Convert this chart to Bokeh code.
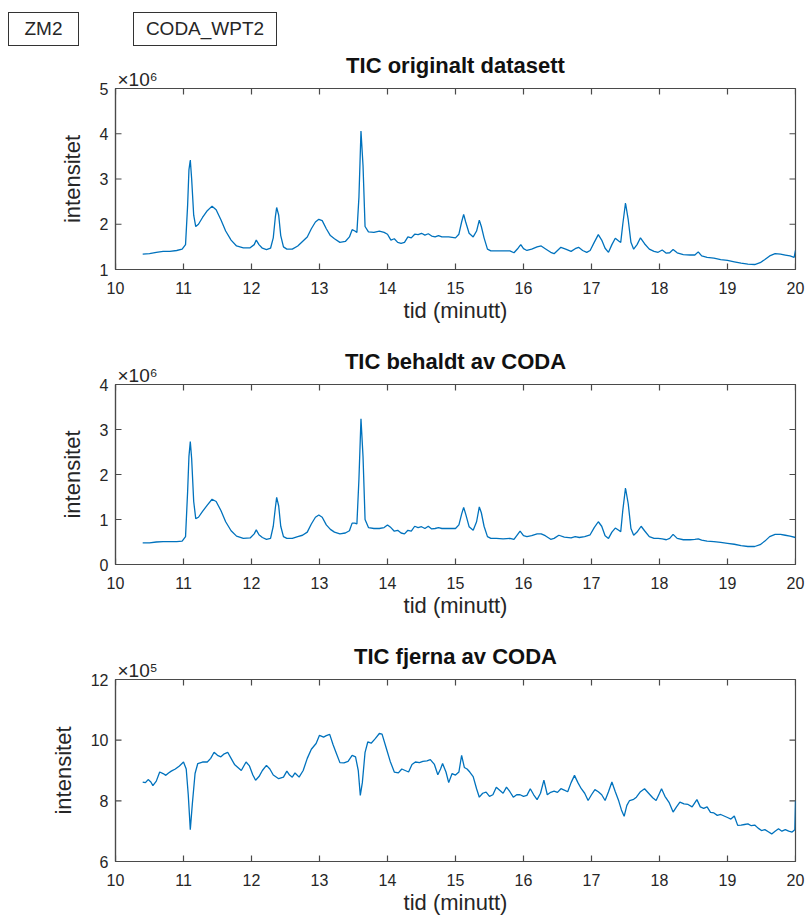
import math
from bokeh.plotting import figure
from bokeh.models import Range1d, FixedTicker, Div, Title
from bokeh.layouts import column
from bokeh.embed import file_html
from bokeh.resources import INLINE

# ---------------- data ----------------
x_ticks = [10, 11, 12, 13, 14, 15, 16, 17, 18, 19, 20]

# TIC originalt datasett  (intensitet, x 10^6)
t_orig = [10.40, 10.50, 10.60, 10.70, 10.80, 10.90, 10.98, 11.03, 11.06, 11.08, 11.10, 11.12, 11.15, 11.18,
          11.22, 11.28, 11.35, 11.42, 11.48, 11.55, 11.62, 11.70, 11.78, 11.88, 11.98, 12.04, 12.07, 12.11,
          12.16, 12.22, 12.28, 12.32, 12.35, 12.37, 12.40, 12.43, 12.47, 12.52, 12.60, 12.68, 12.75, 12.82,
          12.88, 12.94, 12.99, 13.04, 13.10, 13.16, 13.22, 13.30, 13.38, 13.44, 13.48, 13.52, 13.55, 13.58,
          13.61, 13.64, 13.67, 13.72, 13.80, 13.88, 13.95, 14.00, 14.05, 14.10, 14.15, 14.20, 14.25, 14.30,
          14.35, 14.40, 14.45, 14.50, 14.55, 14.60, 14.65, 14.70, 14.75, 14.80, 14.90, 15.00, 15.05, 15.09,
          15.12, 15.15, 15.20, 15.26, 15.31, 15.35, 15.38, 15.42, 15.47, 15.52, 15.60, 15.70, 15.80, 15.86,
          15.92, 15.96, 16.00, 16.05, 16.12, 16.20, 16.26, 16.32, 16.40, 16.45, 16.50, 16.55, 16.62, 16.70,
          16.76, 16.81, 16.87, 16.93, 16.98, 17.04, 17.10, 17.15, 17.20, 17.25, 17.30, 17.35, 17.40, 17.43,
          17.46, 17.50, 17.54, 17.58, 17.62, 17.67, 17.72, 17.78, 17.85, 17.92, 17.98, 18.04, 18.10, 18.15,
          18.20, 18.26, 18.35, 18.45, 18.52, 18.57, 18.62, 18.70, 18.80, 18.90, 19.00, 19.10, 19.20, 19.30,
          19.40, 19.48, 19.55, 19.62, 19.70, 19.78, 19.85, 19.92, 19.98, 20.00]
tic_orig = [1.34, 1.35, 1.38, 1.40, 1.40, 1.42, 1.45, 1.55, 2.40, 3.20, 3.42, 3.00, 2.20, 1.95,
            2.00, 2.15, 2.30, 2.40, 2.32, 2.10, 1.85, 1.65, 1.52, 1.48, 1.48, 1.55, 1.65, 1.55,
            1.47, 1.44, 1.47, 1.70, 2.15, 2.37, 2.20, 1.75, 1.50, 1.45, 1.45, 1.52, 1.62, 1.72,
            1.90, 2.05, 2.11, 2.08, 1.90, 1.75, 1.68, 1.60, 1.62, 1.72, 1.88, 1.85, 1.82, 2.60,
            4.06, 3.30, 1.95, 1.83, 1.82, 1.85, 1.82, 1.78, 1.65, 1.68, 1.60, 1.58, 1.60, 1.72,
            1.70, 1.78, 1.77, 1.80, 1.76, 1.79, 1.74, 1.72, 1.75, 1.72, 1.72, 1.70, 1.78, 2.05,
            2.22, 2.05, 1.80, 1.72, 1.85, 2.09, 1.95, 1.70, 1.45, 1.41, 1.41, 1.41, 1.41, 1.37,
            1.47, 1.55, 1.46, 1.42, 1.45, 1.50, 1.52, 1.46, 1.38, 1.35, 1.42, 1.49, 1.45, 1.40,
            1.46, 1.49, 1.42, 1.38, 1.42, 1.60, 1.77, 1.65, 1.47, 1.38, 1.55, 1.69, 1.63, 1.60,
            2.00, 2.47, 2.10, 1.60, 1.45, 1.55, 1.70, 1.57, 1.45, 1.40, 1.38, 1.43, 1.36, 1.37,
            1.44, 1.37, 1.33, 1.32, 1.32, 1.39, 1.30, 1.27, 1.25, 1.22, 1.20, 1.17, 1.14, 1.12,
            1.11, 1.15, 1.22, 1.30, 1.35, 1.34, 1.32, 1.30, 1.27, 1.42]

# TIC behaldt av CODA  (intensitet, x 10^6)
t_kept = [10.40, 10.50, 10.60, 10.70, 10.80, 10.90, 10.98, 11.03, 11.06, 11.08, 11.10, 11.12, 11.15, 11.18,
          11.22, 11.28, 11.35, 11.42, 11.48, 11.55, 11.62, 11.70, 11.78, 11.88, 11.98, 12.04, 12.07, 12.11,
          12.16, 12.22, 12.28, 12.32, 12.35, 12.37, 12.40, 12.43, 12.47, 12.52, 12.60, 12.68, 12.75, 12.82,
          12.88, 12.94, 12.99, 13.04, 13.10, 13.16, 13.22, 13.30, 13.38, 13.44, 13.48, 13.52, 13.55, 13.58,
          13.61, 13.64, 13.67, 13.72, 13.80, 13.88, 13.95, 14.00, 14.05, 14.10, 14.15, 14.20, 14.25, 14.30,
          14.35, 14.40, 14.45, 14.50, 14.55, 14.60, 14.65, 14.70, 14.75, 14.80, 14.90, 15.00, 15.05, 15.09,
          15.12, 15.15, 15.20, 15.26, 15.31, 15.35, 15.38, 15.42, 15.47, 15.52, 15.60, 15.70, 15.80, 15.86,
          15.92, 15.95, 16.00, 16.05, 16.12, 16.20, 16.26, 16.32, 16.40, 16.45, 16.52, 16.60, 16.70, 16.76,
          16.82, 16.90, 16.98, 17.04, 17.10, 17.15, 17.20, 17.25, 17.30, 17.35, 17.40, 17.43, 17.46, 17.50,
          17.54, 17.58, 17.62, 17.67, 17.73, 17.78, 17.85, 17.92, 17.98, 18.04, 18.10, 18.15, 18.20, 18.26,
          18.35, 18.45, 18.52, 18.57, 18.62, 18.70, 18.80, 18.90, 19.00, 19.10, 19.20, 19.30, 19.40, 19.48,
          19.55, 19.62, 19.70, 19.78, 19.85, 19.92, 20.00]
tic_kept = [0.48, 0.48, 0.50, 0.51, 0.51, 0.51, 0.52, 0.62, 1.60, 2.40, 2.73, 2.35, 1.40, 1.02,
            1.05, 1.18, 1.32, 1.45, 1.40, 1.20, 0.95, 0.75, 0.63, 0.58, 0.59, 0.68, 0.77, 0.66,
            0.60, 0.56, 0.58, 0.85, 1.25, 1.49, 1.30, 0.85, 0.62, 0.58, 0.58, 0.62, 0.65, 0.72,
            0.90, 1.05, 1.10, 1.05, 0.88, 0.78, 0.72, 0.68, 0.70, 0.75, 0.92, 0.92, 0.90, 1.90,
            3.24, 2.40, 1.00, 0.82, 0.80, 0.80, 0.82, 0.88, 0.82, 0.74, 0.76, 0.70, 0.68, 0.76,
            0.74, 0.85, 0.82, 0.84, 0.80, 0.85, 0.79, 0.80, 0.82, 0.80, 0.80, 0.80, 0.88, 1.12,
            1.27, 1.12, 0.84, 0.76, 0.95, 1.28, 1.15, 0.85, 0.62, 0.58, 0.58, 0.57, 0.58, 0.56,
            0.68, 0.74, 0.64, 0.62, 0.64, 0.68, 0.68, 0.64, 0.56, 0.58, 0.65, 0.61, 0.59, 0.62,
            0.60, 0.62, 0.66, 0.82, 0.95, 0.85, 0.64, 0.58, 0.72, 0.81, 0.76, 0.73, 1.20, 1.70,
            1.35, 0.80, 0.65, 0.72, 0.85, 0.75, 0.62, 0.58, 0.58, 0.57, 0.55, 0.58, 0.67, 0.58,
            0.55, 0.55, 0.56, 0.57, 0.54, 0.52, 0.51, 0.49, 0.47, 0.45, 0.42, 0.40, 0.40, 0.44,
            0.52, 0.62, 0.67, 0.67, 0.65, 0.63, 0.60]

# TIC fjerna av CODA  (intensitet, x 10^5)
t_removed = [10.40, 10.44, 10.48, 10.52, 10.55, 10.60, 10.65, 10.70, 10.74, 10.78, 10.82, 10.88, 10.94, 11.00,
             11.04, 11.07, 11.10, 11.13, 11.17, 11.21, 11.28, 11.35, 11.40, 11.45, 11.50, 11.55, 11.60, 11.65,
             11.70, 11.75, 11.80, 11.85, 11.92, 11.97, 12.02, 12.06, 12.11, 12.16, 12.22, 12.27, 12.32, 12.40,
             12.47, 12.52, 12.56, 12.60, 12.64, 12.70, 12.76, 12.82, 12.88, 12.95, 13.00, 13.06, 13.10, 13.15,
             13.20, 13.25, 13.30, 13.36, 13.42, 13.48, 13.53, 13.57, 13.60, 13.63, 13.67, 13.71, 13.76, 13.82,
             13.88, 13.92, 13.98, 14.04, 14.10, 14.16, 14.21, 14.26, 14.31, 14.36, 14.41, 14.47, 14.52, 14.58,
             14.63, 14.69, 14.74, 14.78, 14.81, 14.86, 14.90, 14.95, 15.00, 15.05, 15.09, 15.13, 15.17, 15.21,
             15.26, 15.31, 15.35, 15.40, 15.45, 15.50, 15.55, 15.60, 15.65, 15.70, 15.75, 15.80, 15.85, 15.90,
             15.95, 16.00, 16.05, 16.10, 16.15, 16.20, 16.25, 16.30, 16.35, 16.40, 16.45, 16.50, 16.55, 16.60,
             16.65, 16.70, 16.75, 16.80, 16.85, 16.90, 16.95, 17.00, 17.05, 17.10, 17.15, 17.20, 17.25, 17.30,
             17.35, 17.40, 17.44, 17.48, 17.52, 17.56, 17.62, 17.66, 17.72, 17.78, 17.84, 17.90, 17.95, 18.00,
             18.03, 18.08, 18.14, 18.20, 18.25, 18.30, 18.36, 18.42, 18.48, 18.55, 18.60, 18.65, 18.70, 18.75,
             18.80, 18.85, 18.90, 18.95, 19.00, 19.05, 19.10, 19.15, 19.20, 19.25, 19.30, 19.35, 19.40, 19.45,
             19.50, 19.55, 19.60, 19.65, 19.70, 19.75, 19.80, 19.85, 19.90, 19.95, 19.99, 20.00]
tic_removed = [8.62, 8.60, 8.70, 8.62, 8.50, 8.65, 8.95, 8.90, 8.84, 8.92, 8.98, 9.05, 9.15, 9.28,
               9.05, 8.20, 7.05, 7.90, 8.90, 9.23, 9.28, 9.28, 9.40, 9.60, 9.50, 9.45, 9.55, 9.60,
               9.40, 9.20, 9.10, 9.00, 9.28, 9.15, 8.85, 8.68, 8.80, 9.00, 9.17, 9.05, 8.85, 8.73,
               8.78, 8.98, 8.85, 8.78, 8.92, 8.78, 9.00, 9.40, 9.70, 9.89, 10.16, 10.10, 10.15, 10.19,
               9.85, 9.55, 9.26, 9.25, 9.30, 9.50, 9.45, 9.00, 8.18, 8.60, 9.60, 9.94, 9.90, 10.05,
               10.22, 10.20, 9.75, 9.30, 8.95, 8.92, 9.05, 9.00, 8.95, 9.20, 9.28, 9.26, 9.30, 9.32,
               9.36, 9.20, 8.86, 9.05, 9.23, 8.95, 8.60, 8.90, 8.85, 8.95, 9.50, 9.10, 9.05, 8.95,
               8.80, 8.40, 8.12, 8.25, 8.29, 8.15, 8.20, 8.45, 8.35, 8.25, 8.45, 8.30, 8.12, 8.20,
               8.20, 8.15, 8.18, 8.40, 8.20, 8.04, 8.25, 8.68, 8.20, 8.28, 8.32, 8.28, 8.40, 8.35,
               8.30, 8.60, 8.84, 8.60, 8.40, 8.25, 8.01, 8.20, 8.37, 8.30, 8.20, 8.01, 8.30, 8.62,
               8.30, 8.00, 7.70, 7.49, 7.85, 8.01, 8.05, 8.12, 8.30, 8.40, 8.25, 8.10, 8.01, 8.25,
               8.40, 8.15, 7.95, 7.63, 7.80, 7.96, 7.90, 7.88, 7.80, 8.04, 7.80, 7.75, 7.80, 7.62,
               7.60, 7.52, 7.55, 7.50, 7.45, 7.40, 7.50, 7.19, 7.20, 7.22, 7.24, 7.18, 7.20, 7.10,
               7.02, 7.05, 6.98, 6.91, 7.00, 7.08, 7.00, 7.05, 7.00, 6.97, 7.05, 8.00]

y_ticks_orig = [1, 2, 3, 4, 5]
y_ticks_kept = [0, 1, 2, 3, 4]
y_ticks_removed = [6, 8, 10, 12]

titles = ["TIC originalt datasett", "TIC behaldt av CODA", "TIC fjerna av CODA"]
scale_labels = ["×10⁶", "×10⁶", "×10⁵"]
header_labels = ["ZM2", "CODA_WPT2"]
x_label = "tid (minutt)"
y_label = "intensitet"

# header boxes (page pixels): left, top, width, height
header_box_left = [8, 133]
header_box_width = [71, 144]
header_box_top = 12
header_box_height = 34

# ---------------- styling ----------------
FONT = "Liberation Sans"
AX = "#4a4a4a"
TXT = "#262626"
LINE = "#0072BD"
W = 808
TICK_LEN = 12  # dash marker length; half of it lies inside the frame


def style_axis(ax, ticks):
    ax.ticker = FixedTicker(ticks=ticks)
    ax.major_tick_in = 0
    ax.major_tick_out = 0
    ax.minor_tick_line_color = None
    ax.axis_line_color = AX
    ax.axis_line_width = 1.2
    ax.major_tick_line_color = None
    ax.major_label_text_font = FONT
    ax.major_label_text_font_size = "16px"
    ax.major_label_text_color = TXT
    ax.axis_label_text_font = FONT
    ax.axis_label_text_font_size = "22px"
    ax.axis_label_text_font_style = "normal"
    ax.axis_label_text_color = TXT


def panel(title, t, y, yr, yticks, scale_text, top, frame_h, bottom):
    p = figure(width=W, height=top + frame_h + bottom, output_backend="svg", toolbar_location=None,
               x_range=Range1d(10, 20), y_range=Range1d(*yr),
               min_border_left=115, min_border_right=13, min_border_top=top, min_border_bottom=bottom,
               x_axis_label=x_label, y_axis_label=y_label)
    p.background_fill_color = "white"
    p.border_fill_color = "white"
    p.outline_line_color = AX
    p.outline_line_width = 1.2
    p.xgrid.visible = False
    p.ygrid.visible = False

    # exponent label of the y axis, just above the top-left corner of the box
    p.add_layout(Title(text=scale_text, align="left", offset=2, standoff=-2,
                       text_font=FONT, text_font_size="19px", text_font_style="normal",
                       text_color=TXT), "above")

    p.title.text = title
    p.title.align = "center"
    p.title.text_font = FONT
    p.title.text_font_size = "22px"
    p.title.text_font_style = "bold"
    p.title.text_color = "#111111"
    p.title.standoff = -20

    style_axis(p.xaxis[0], x_ticks)
    p.xaxis[0].major_label_standoff = 12
    p.xaxis[0].axis_label_standoff = 1
    style_axis(p.yaxis[0], yticks)
    p.yaxis[0].major_label_standoff = 7
    p.yaxis[0].axis_label_standoff = 12

    # inward ticks on all four sides of the box (the outer half is clipped by the frame)
    n_x, n_y = len(x_ticks), len(yticks)
    p.scatter(x_ticks, [yr[0]] * n_x, marker="dash", size=TICK_LEN, angle=math.pi / 2,
              line_color=AX, line_width=1.2)
    p.scatter(x_ticks, [yr[1]] * n_x, marker="dash", size=TICK_LEN, angle=math.pi / 2,
              line_color=AX, line_width=1.2)
    p.scatter([10] * n_y, yticks, marker="dash", size=TICK_LEN, line_color=AX, line_width=1.2)
    p.scatter([20] * n_y, yticks, marker="dash", size=TICK_LEN, line_color=AX, line_width=1.2)

    p.line(t, y, line_color=LINE, line_width=1.3)
    return p


# ---------------- header with the two boxed labels ----------------
boxes = "".join(
    f'<div style="position:absolute;left:{l}px;top:{header_box_top}px;width:{w}px;'
    f'height:{header_box_height}px;box-sizing:border-box;border:1.2px solid #333;'
    f'display:flex;align-items:center;justify-content:center;background:white;">{lab}</div>'
    for l, w, lab in zip(header_box_left, header_box_width, header_labels))
header = Div(text=f'<div style="position:relative;width:{W}px;height:48px;font-family:\'{FONT}\';'
                  f'font-size:19px;color:{TXT};">{boxes}</div>',
             width=W, height=48, margin=0)

p1 = panel(titles[0], t_orig, tic_orig, (1, 5), y_ticks_orig, scale_labels[0], 40, 181, 66)
p2 = panel(titles[1], t_kept, tic_kept, (0, 4), y_ticks_kept, scale_labels[1], 49, 180, 66)
p3 = panel(titles[2], t_removed, tic_removed, (6, 12), y_ticks_removed, scale_labels[2], 49, 182, 58)

layout = column(header, p1, p2, p3, spacing=0)
open("out.html", "w").write(file_html(layout, INLINE))
